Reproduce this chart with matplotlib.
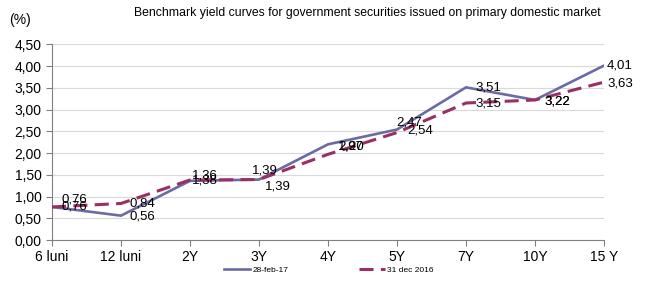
import matplotlib.pyplot as plt
from matplotlib.lines import Line2D

plt.rcParams['font.family'] = ['Liberation Sans', 'DejaVu Sans']

categories = ["6 luni", "12 luni", "2Y", "3Y", "4Y", "5Y", "7Y", "10Y", "15 Y"]
feb_17 = [0.76, 0.56, 1.36, 1.39, 2.20, 2.54, 3.51, 3.22, 4.01]
dec_16 = [0.76, 0.84, 1.38, 1.39, 1.97, 2.47, 3.15, 3.22, 3.63]
y_ticks = [0.0, 0.5, 1.0, 1.5, 2.0, 2.5, 3.0, 3.5, 4.0, 4.5]

# label offsets in pixels (dx, dy), dy upwards
feb_off = [(10, 0), (9, -1), (2, 5), (-7, 9), (10, -2), (10, -1), (9, 0), (9, -2), (3, 0)]
dec_off = [(10, 7), (9, 0), (2, -1), (6, -7), (10, 8), (-1, 10), (9, 0), (9, -2), (3, -1)]

feb_col = "#6b6aa3"
dec_col = "#9a2f62"


def fmt(v):
    return ("%.2f" % v).replace(".", ",")


fig = plt.figure(figsize=(6.49, 2.85), dpi=100)
ax = fig.add_axes([52 / 649, 45 / 285, 552 / 649, 195.7 / 285])

x = list(range(len(categories)))
ax.plot(x, feb_17, color=feb_col, lw=1.9, solid_joinstyle='miter', zorder=3)
ax.plot(x, dec_16, color=dec_col, lw=2.2, dashes=(4.6, 2.4), zorder=3)

for i in x:
    ax.annotate(fmt(feb_17[i]), (i, feb_17[i]), xytext=feb_off[i], textcoords='offset pixels',
                ha='left', va='center', fontsize=9.5, zorder=5)
    ax.annotate(fmt(dec_16[i]), (i, dec_16[i]), xytext=dec_off[i], textcoords='offset pixels',
                ha='left', va='center', fontsize=9.5, zorder=5)

ax.set_xlim(0, len(categories) - 1)
ax.set_ylim(0, 4.5)
ax.set_yticks(y_ticks)
ax.set_yticklabels([fmt(v) for v in y_ticks], fontsize=10)
ax.set_xticks(x)
ax.set_xticklabels(categories, fontsize=10)
ax.grid(axis='y', color='#d9d9d9', lw=0.8)
ax.set_axisbelow(True)
for s in ['top', 'right']:
    ax.spines[s].set_visible(False)
for s in ['left', 'bottom']:
    ax.spines[s].set_color('#808080')
    ax.spines[s].set_linewidth(0.8)
ax.tick_params(axis='both', colors='#808080', labelcolor='black', length=4, width=0.8)
ax.tick_params(axis='x', pad=3)

fig.text(367 / 649, 1 - 13 / 285, "Benchmark yield curves for government securities issued on primary domestic market",
         ha='center', va='center', fontsize=8.8)
fig.text(20 / 649, 1 - 20 / 285, "(%)", ha='center', va='center', fontsize=10)

handles = [Line2D([], [], color=feb_col, lw=1.9),
           Line2D([], [], color=dec_col, lw=2.2, dashes=(4.6, 2.4))]
fig.legend(handles, ["28-feb-17", "31 dec 2016"], loc='center', bbox_to_anchor=(329 / 649, 15 / 285),
           ncol=2, frameon=False, fontsize=6, handlelength=3.1, columnspacing=8.4, handletextpad=0.3)

fig.savefig("out.png", dpi=100)
